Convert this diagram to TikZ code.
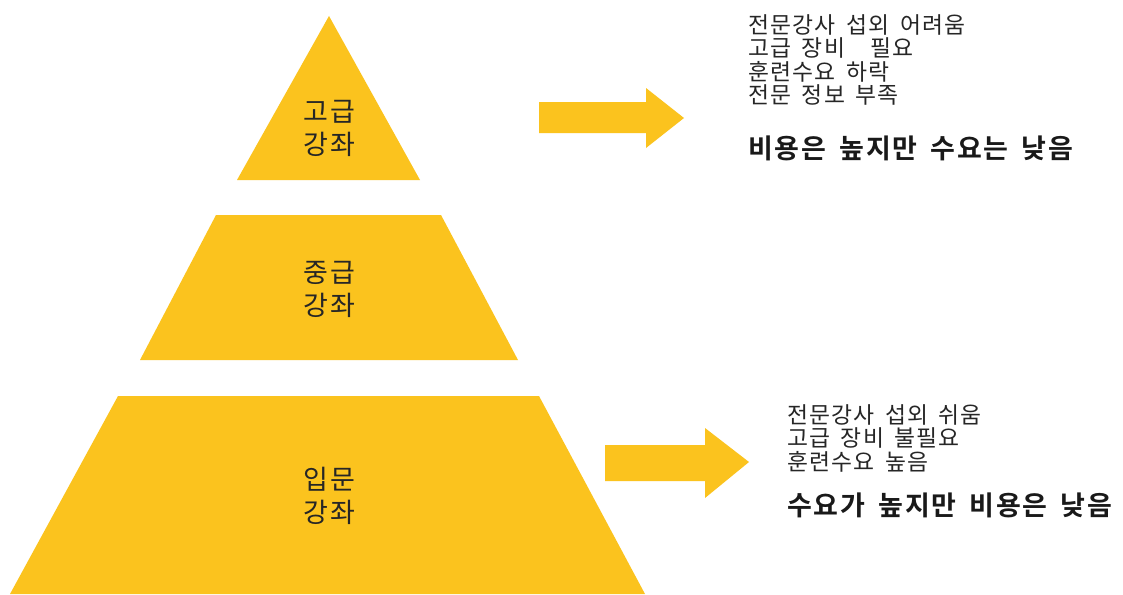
\documentclass[tikz,border=0pt]{standalone}
\usepackage{fontspec}
\setmainfont{Noto Sans CJK KR}
\newfontfamily\kofont{Noto Sans CJK KR}[LetterSpace=5,WordSpace=1.7]
\newfontfamily\kobold{Noto Sans CJK KR}[LetterSpace=7,WordSpace=1.6,BoldFont={Noto Sans CJK KR Bold}]
\newfontfamily\kolabel{Noto Sans CJK KR}[LetterSpace=8]
\definecolor{amber}{RGB}{251,195,30}
\begin{document}
\begin{tikzpicture}[x=1pt,y=-1pt,
  level/.style={fill=amber},
  blockarrow/.style={fill=amber},
  lvllabel/.style={align=center,font=\kolabel\fontsize{27}{33}\selectfont,text=black!85,inner sep=0pt},
  note/.style={anchor=north west,align=left,font=\kofont\fontsize{22.8}{23.5}\selectfont,text=black!85,inner sep=0pt},
  concl/.style={anchor=west,font=\kobold\bfseries\fontsize{27}{29}\selectfont,text=black!90,inner sep=0pt}]
\useasboundingbox (0,0) rectangle (1123,594);
\fill[white] (0,0) rectangle (1123,594);
% pyramid
\fill[level] (329,16) -- (420,180) -- (237,180) -- cycle;
\fill[level] (216,215) -- (441,215) -- (518,360) -- (140,360) -- cycle;
\fill[level] (118,396) -- (539,396) -- (645,594) -- (10,594) -- cycle;
\node[lvllabel] (high) at (329,128) {고급\\강좌};
\node[lvllabel] (mid) at (329,289) {중급\\강좌};
\node[lvllabel] (low) at (329,496) {입문\\강좌};
% arrows
\fill[blockarrow] (539,102) -- (646,102) -- (646,88) -- (684,118) -- (646,148) -- (646,133) -- (539,133) -- cycle;
\fill[blockarrow] (605,445) -- (705,445) -- (705,428) -- (749,462) -- (705,498) -- (705,481) -- (605,481) -- cycle;
% notes
\node[note] (topnote) at (748,14) {전문강사 섭외\hspace{0.5em}어려움\\고급 장비\hspace{1.1em}필요\\훈련수요 하락\\전문 정보 부족};
\node[concl] (topconcl) at (748,148) {비용은 높지만 수요는 낮음};
\node[note] (lownote) at (787,404) {전문강사 섭외 쉬움\\고급 장비 불필요\\훈련수요 높음};
\node[concl] (lowconcl) at (787,505) {수요가 높지만 비용은 낮음};
\end{tikzpicture}
\end{document}
